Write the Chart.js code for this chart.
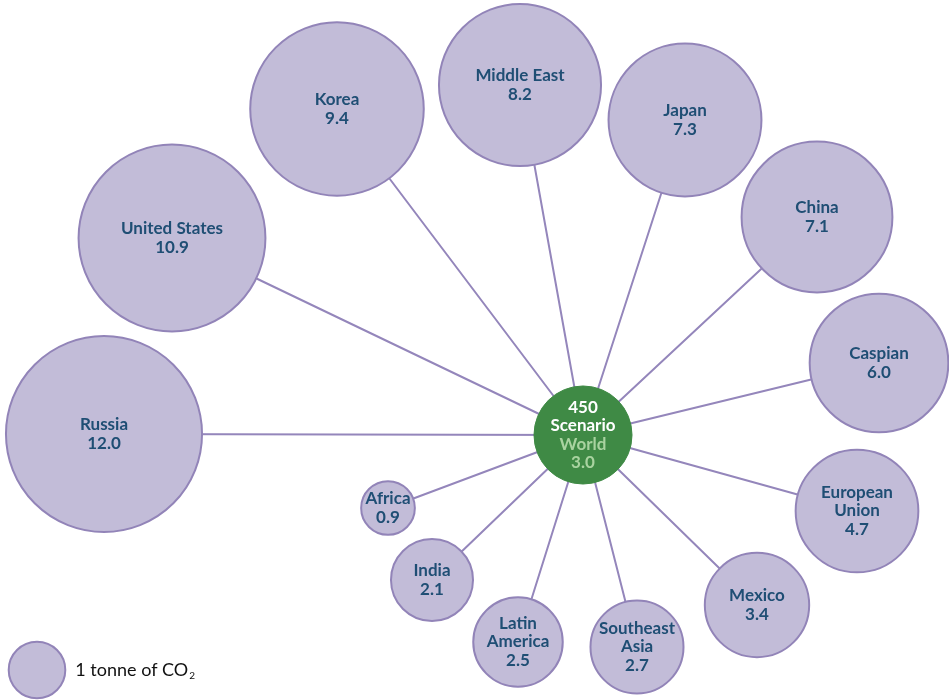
<!DOCTYPE html>
<html>
<head>
<meta charset="utf-8">
<script src="https://cdn.jsdelivr.net/npm/chart.js@4/dist/chart.umd.min.js"></script>
<style>
  html, body { margin: 0; padding: 0; background: #fff; }
  #wrap { width: 949px; height: 700px; position: relative; }
</style>
</head>
<body>
<div id="wrap"><canvas id="c" width="949" height="700"></canvas></div>
<script>
// 各地区人均 CO2（吨），450 情景
const regions = ["Russia", "United States", "Korea", "Middle East", "Japan", "China", "Caspian",
  "European Union", "Mexico", "Southeast Asia", "Latin America", "India", "Africa"];
const labelLines = [["Russia"], ["United States"], ["Korea"], ["Middle East"], ["Japan"], ["China"], ["Caspian"],
  ["European", "Union"], ["Mexico"], ["Southeast", "Asia"], ["Latin", "America"], ["India"], ["Africa"]];
const values = [12.0, 10.9, 9.4, 8.2, 7.3, 7.1, 6.0, 4.7, 3.4, 2.7, 2.5, 2.1, 0.9];
// 布局坐标（画布单位）
const posX = [104, 172, 337, 520, 685, 817, 879, 857, 757, 637, 518, 432, 388];
const posY = [434, 238, 109, 85, 120, 217, 363, 511, 605, 647, 642, 580, 508];

const worldLabel = ["450", "Scenario"];
const worldSubLabel = ["World", "3.0"];
const worldValue = 3.0;
const worldX = 583;
const worldY = 435;

const legendValue = 1;
const legendX = 37;
const legendY = 670;
const legendText = "1 tonne of CO";

const R_PER_SQRT = 28.3;
const FONT = "Lato, 'Open Sans', sans-serif";

function radiusFor(v) {
  return R_PER_SQRT * Math.sqrt(v);
}

// 辐条：中心到每个气泡，null 断开
const spokeData = [];
regions.forEach((_, i) => {
  spokeData.push({ x: worldX, y: worldY });
  spokeData.push({ x: posX[i], y: posY[i] });
  spokeData.push({ x: null, y: null });
});

const bubbleData = regions.map((name, i) => ({ x: posX[i], y: posY[i], v: values[i], lines: labelLines[i] }));

const labelPlugin = {
  id: "bubbleLabels",
  afterDatasetsDraw(chart) {
    const { ctx, scales } = chart;
    ctx.save();
    ctx.textAlign = "center";
    ctx.textBaseline = "middle";
    const lh = 18.5;

    bubbleData.forEach((d) => {
      const cx = scales.x.getPixelForValue(d.x);
      const cy = scales.y.getPixelForValue(d.y);
      const lines = d.lines.concat([d.v.toFixed(1)]);
      const y0 = cy - ((lines.length - 1) * lh) / 2;
      ctx.fillStyle = "#1f4e74";
      ctx.font = `bold 17px ${FONT}`;
      lines.forEach((t, k) => ctx.fillText(t, cx, y0 + k * lh));
    });

    // 中心
    const wx = scales.x.getPixelForValue(worldX);
    const wy = scales.y.getPixelForValue(worldY);
    const wl = worldLabel.concat(worldSubLabel);
    const wy0 = wy - ((wl.length - 1) * lh) / 2;
    ctx.font = `bold 17px ${FONT}`;
    wl.forEach((t, k) => {
      ctx.fillStyle = k < worldLabel.length ? "#ffffff" : "#a9d3a0";
      ctx.fillText(t, wx, wy0 + k * lh);
    });

    // 图例
    const lx = scales.x.getPixelForValue(legendX) + radiusFor(legendValue) + 10;
    const ly = scales.y.getPixelForValue(legendY) + 6;
    ctx.textAlign = "left";
    ctx.textBaseline = "alphabetic";
    ctx.fillStyle = "#111";
    ctx.font = `18px ${FONT}`;
    ctx.fillText(legendText, lx, ly);
    const w = ctx.measureText(legendText).width;
    ctx.font = `10px ${FONT}`;
    ctx.fillText("2", lx + w + 1, ly + 3);
    ctx.restore();
  },
};

new Chart(document.getElementById("c"), {
  type: "bubble",
  data: {
    datasets: [
      {
        type: "scatter",
        label: "spokes",
        data: spokeData,
        showLine: true,
        spanGaps: false,
        borderColor: "#9486bb",
        borderWidth: 2,
        pointRadius: 0,
        order: 3,
      },
      {
        label: "regions",
        data: bubbleData,
        backgroundColor: "#c2bcd8",
        borderColor: "#9284b8",
        borderWidth: 2,
        radius: (c) => radiusFor(c.raw.v),
        hoverRadius: 0,
        order: 2,
      },
      {
        label: "world",
        data: [{ x: worldX, y: worldY, v: worldValue }],
        backgroundColor: "#3f8a45",
        borderColor: "#3f8a45",
        borderWidth: 1,
        radius: (c) => radiusFor(c.raw.v),
        order: 1,
      },
      {
        label: "legend",
        data: [{ x: legendX, y: legendY, v: legendValue }],
        backgroundColor: "#c2bcd8",
        borderColor: "#9284b8",
        borderWidth: 2,
        radius: (c) => radiusFor(c.raw.v),
        order: 1,
      },
    ],
  },
  options: {
    responsive: false,
    animation: false,
    events: [],
    clip: false,
    layout: { padding: 0, autoPadding: false },
    plugins: {
      legend: { display: false },
      tooltip: { enabled: false },
    },
    scales: {
      x: { type: "linear", min: 0, max: 949, display: false },
      y: { type: "linear", min: 0, max: 700, reverse: true, display: false },
    },
  },
  plugins: [labelPlugin],
});
</script>
</body>
</html>
